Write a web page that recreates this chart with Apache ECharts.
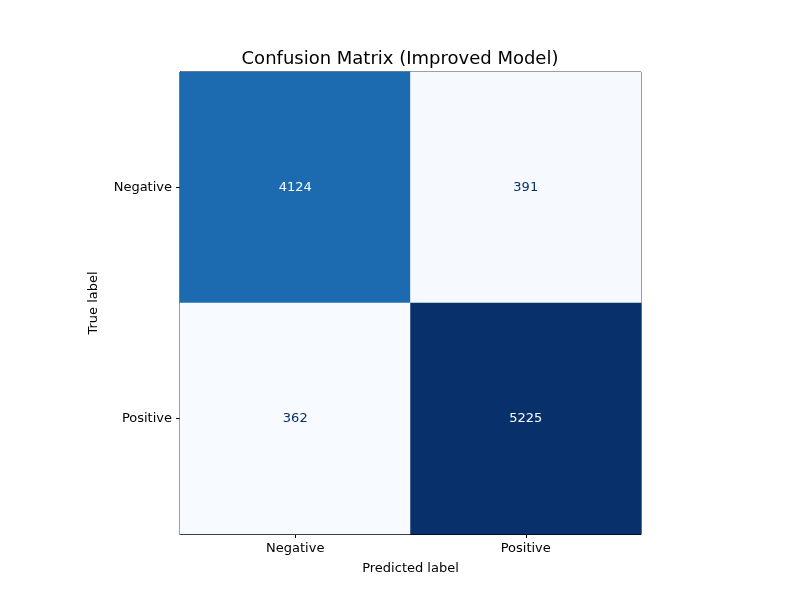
<!DOCTYPE html>
<html>
<head>
<meta charset="utf-8">
<script src="https://cdn.jsdelivr.net/npm/echarts@6/dist/echarts.min.js"></script>
<style>html,body{margin:0;background:#fff}#chart{width:800px;height:600px}</style>
</head>
<body>
<div id="chart"></div>
<script>
const predictedLabels = ['Negative', 'Positive'];
const trueLabels = ['Negative', 'Positive'];
// [predictedIndex, trueIndex, count]
const cells = [
    [0, 0, 4124],
    [1, 0, 391],
    [0, 1, 362],
    [1, 1, 5225]
];
const blues = ['#f7fbff', '#deebf7', '#c6dbef', '#9ecae1', '#6baed6', '#4292c6', '#2171b5', '#08519c', '#08306b'];

const font = 'DejaVu Sans';
const axisCommon = {
    type: 'category',
    nameLocation: 'middle',
    nameTextStyle: {color: '#000', fontSize: 13, fontFamily: font},
    axisLine: {show: true, lineStyle: {color: '#000', width: 1}},
    axisTick: {show: true, alignWithLabel: true, length: 4, lineStyle: {color: '#000'}},
    axisLabel: {color: '#000', fontSize: 13, fontFamily: font},
    splitLine: {show: false}
};

let chart = echarts.init(document.getElementById('chart'));
chart.setOption({
    animation: false,
    title: {
        text: 'Confusion Matrix (Improved Model)',
        left: 'center', top: 45,
        textStyle: {fontSize: 18, fontWeight: 'normal', color: '#000', fontFamily: font}
    },
    grid: {left: 180, right: 159, top: 72, bottom: 66, show: true, borderColor: '#000', borderWidth: 1},
    xAxis: Object.assign({}, axisCommon, {data: predictedLabels, name: 'Predicted label', nameGap: 28}),
    yAxis: Object.assign({}, axisCommon, {data: trueLabels, inverse: true, name: 'True label', nameGap: 80}),
    visualMap: {
        show: false, min: 362, max: 5225, dimension: 2,
        inRange: {color: blues}
    },
    series: [{
        type: 'heatmap',
        data: cells,
        label: {
            show: true, fontSize: 13, fontFamily: font,
            color: '#08306b',
            formatter: p => p.value[2],
            rich: {}
        },
        labelLayout: null
    }]
});
// white text on dark cells
chart.setOption({
    series: [{
        data: cells.map(c => ({
            value: c,
            label: {color: c[2] > 2800 ? '#fff' : '#08306b'}
        }))
    }]
});
</script>
</body>
</html>
